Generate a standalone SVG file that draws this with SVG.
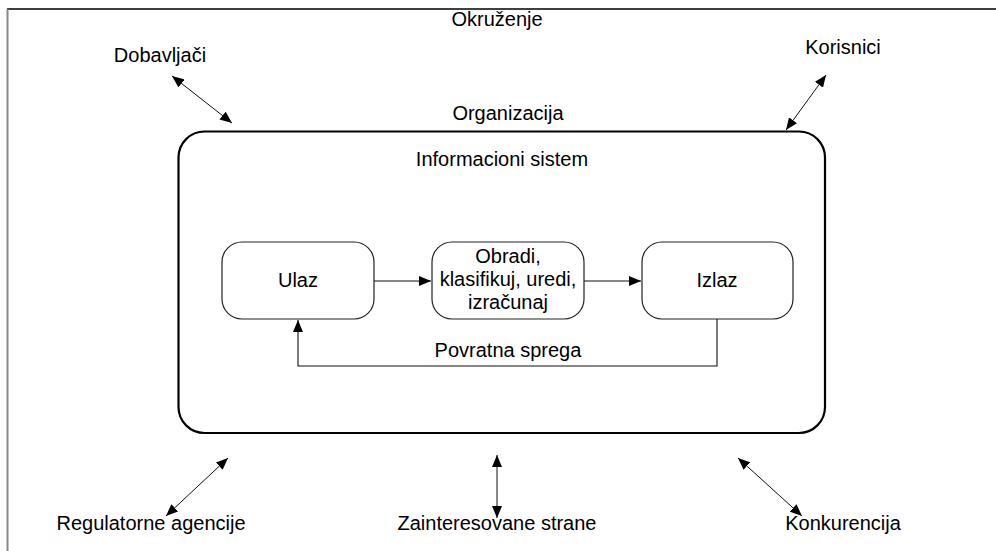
<svg xmlns="http://www.w3.org/2000/svg" width="996" height="551" viewBox="0 0 996 551">
  <style>
    text { font-family: "Liberation Sans", Arial, sans-serif; font-size: 20px; fill: #000; text-anchor: middle; }
    .box { fill: #fff; stroke: #222; stroke-width: 1.2; }
    .org { fill: #fff; stroke: #000; stroke-width: 2.2; }
    .link { fill: none; stroke: #111; stroke-width: 1.1; }
    .env { fill: none; stroke: #111; stroke-width: 1; marker-start: url(#tip); marker-end: url(#tip); }
  </style>
  <defs>
    <marker id="tip" viewBox="0 0 12 10" refX="12" refY="5" markerWidth="12" markerHeight="10" markerUnits="userSpaceOnUse" orient="auto-start-reverse">
      <path d="M0,0 L12,5 L0,10 Z" fill="#000"/>
    </marker>
  </defs>

  <rect width="996" height="551" fill="#fff"/>

  <!-- environment frame (top and left edges) -->
  <g id="frame">
    <line x1="7" y1="9" x2="996" y2="9" stroke="#000" stroke-width="1.5"/>
    <line x1="7.5" y1="9" x2="7.5" y2="551" stroke="#888" stroke-width="2"/>
  </g>

  <g id="okruzenje"><text x="497" y="26">Okruženje</text></g>
  <g id="dobavljaci"><text x="160" y="62">Dobavljači</text></g>
  <g id="korisnici"><text x="843" y="54">Korisnici</text></g>
  <g id="regulatorne"><text x="151" y="530">Regulatorne agencije</text></g>
  <g id="zainteresovane"><text x="497" y="530">Zainteresovane strane</text></g>
  <g id="konkurencija"><text x="843" y="530">Konkurencija</text></g>

  <g id="organizacija">
    <text x="508" y="120">Organizacija</text>
    <rect class="org" x="178.5" y="131.5" width="646.5" height="301.5" rx="26"/>
    <text x="502" y="166">Informacioni sistem</text>
  </g>

  <g id="ulaz">
    <rect class="box" x="222" y="242" width="152" height="77" rx="20"/>
    <text x="298" y="287">Ulaz</text>
  </g>
  <g id="obradi">
    <rect class="box" x="432" y="242" width="152" height="77" rx="20"/>
    <text x="508" y="263">Obradi,</text>
    <text x="508" y="286">klasifikuj, uredi,</text>
    <text x="508" y="309">izračunaj</text>
  </g>
  <g id="izlaz">
    <rect class="box" x="642" y="242" width="151" height="77" rx="20"/>
    <text x="717" y="287">Izlaz</text>
  </g>

  <g id="connectors">
    <line class="link" x1="374" y1="281" x2="431" y2="281" marker-end="url(#tip)"/>
    <line class="link" x1="584" y1="281" x2="641" y2="281" marker-end="url(#tip)"/>
    <polyline class="link" points="717,319 717,366 298,366 298,320" marker-end="url(#tip)"/>
    <text x="508" y="357">Povratna sprega</text>

    <line class="env" x1="172" y1="76" x2="232" y2="123"/>
    <line class="env" x1="826" y1="75" x2="786" y2="130"/>
    <line class="env" x1="228" y1="458" x2="166" y2="516"/>
    <line class="env" x1="497" y1="455" x2="497" y2="518"/>
    <line class="env" x1="738" y1="458" x2="802" y2="516"/>
  </g>
</svg>
